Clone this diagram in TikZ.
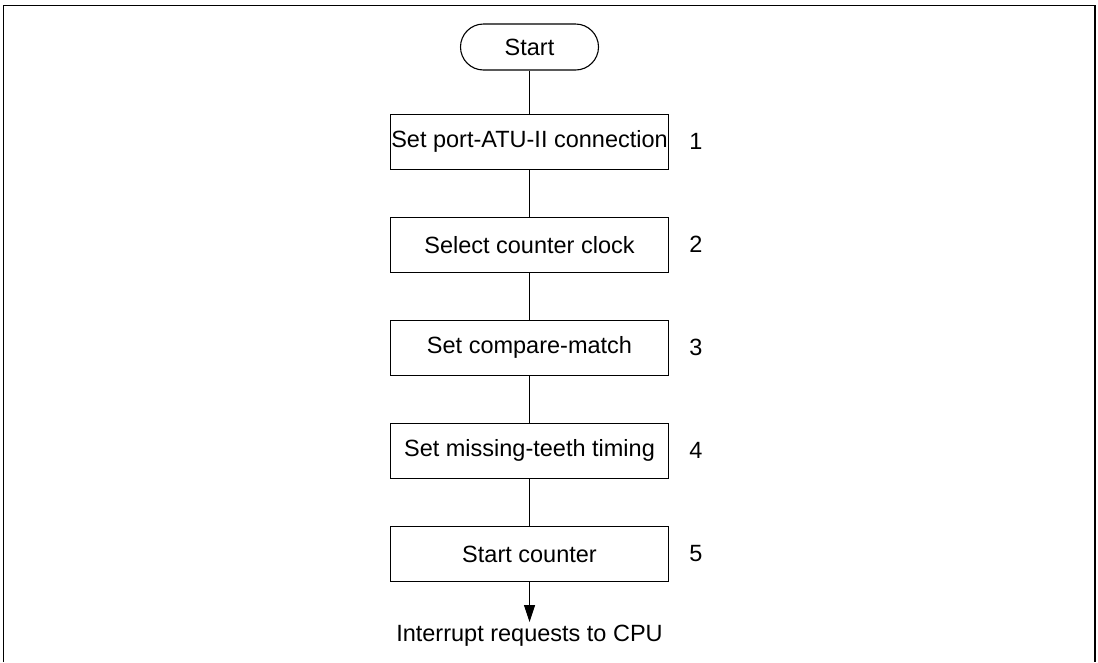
\documentclass[tikz,border=0pt]{standalone}
\usepackage{fontspec}
\setmainfont{Liberation Sans}
\usetikzlibrary{arrows.meta,positioning}
\tikzset{
  font=\fontsize{23.5}{28}\selectfont,
  base/.style={draw,line width=1.1pt,align=center,inner sep=2pt},
  startstop/.style={base,rounded corners=23pt,minimum width=138pt,minimum height=46pt},
  proc/.style={base,inner xsep=0pt,minimum width=278pt,minimum height=55pt},
  stepno/.style={right=20pt of #1,inner sep=0pt},
  flow/.style={line width=1.1pt},
  outflow/.style={-{Triangle[length=17pt,width=11pt]},line width=1.1pt},
}

\begin{document}
\begin{tikzpicture}[x=1pt,y=1pt,node distance=47pt]
\useasboundingbox (0,0) rectangle (1098,-662);

% ============ frame (open at the bottom) ============
\draw[line width=1.4pt] (3.5,-662) |- (1095,-5.5) -- (1095,-662);

% ============ steps ============
\node[startstop] (start) at (529.5,-47) {Start};
\node[proc, below=43pt of start] (conn) {Set port-ATU-II connection};
\node[proc, below=of conn] (clock) {Select counter clock};
\node[proc, below=of clock] (cmatch) {Set compare-match};
\node[proc, below=of cmatch] (teeth) {Set missing-teeth timing};
\node[proc, below=of teeth] (count) {Start counter};

% step numbers
\node[stepno=conn] {1};
\node[stepno=clock] {2};
\node[stepno=cmatch] {3};
\node[stepno=teeth] {4};
\node[stepno=count] {5};

% output
\coordinate[below=40pt of count] (tip);
\node[below=3pt of tip, inner sep=0pt] (irq) {Interrupt requests to CPU};

% ---------- edges ----------
\draw[flow] (start) -- (conn);
\draw[flow] (conn) -- (clock);
\draw[flow] (clock) -- (cmatch);
\draw[flow] (cmatch) -- (teeth);
\draw[flow] (teeth) -- (count);
\draw[outflow] (count) -- (tip);

\end{tikzpicture}
\end{document}
